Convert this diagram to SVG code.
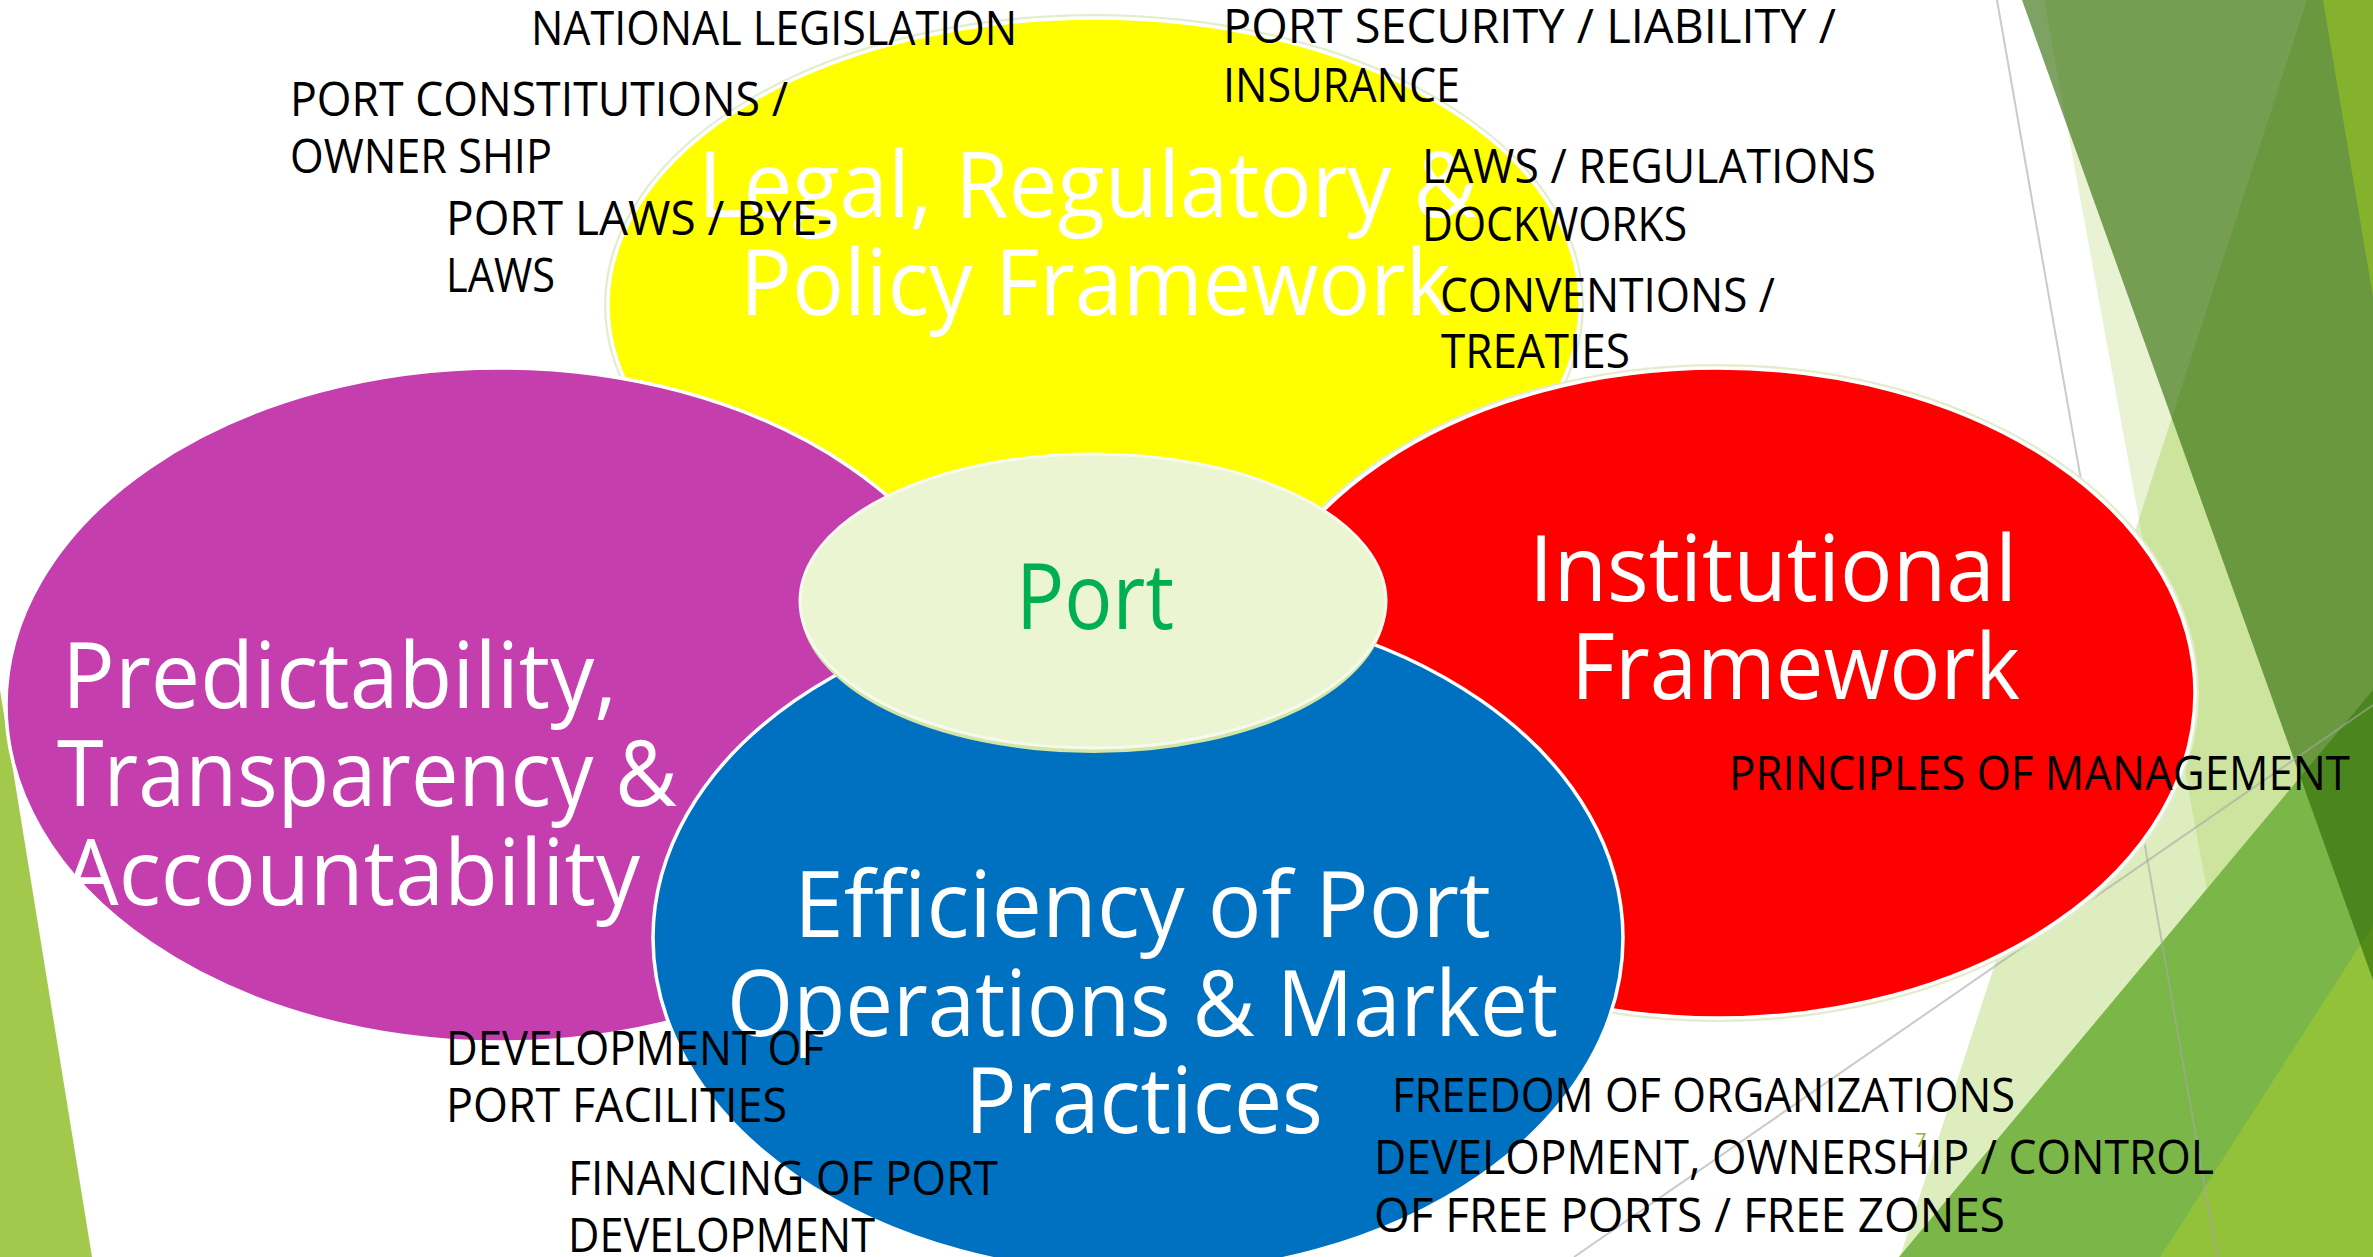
<svg xmlns="http://www.w3.org/2000/svg" width="2373" height="1257" viewBox="0 0 2373 1257">
<style>
.title{font-family:"Open Sans","Liberation Sans",sans-serif;font-size:91px;fill:#FFFFFF}
.lbl{font-family:"Open Sans","Liberation Sans",sans-serif;font-size:47px;fill:#000000}
.edge{stroke:#FFFFFF;stroke-width:3.5}
.glow{fill:#E2EECB}
.gline{stroke:#A6A6A6;stroke-opacity:0.6;stroke-width:2;fill:none}
</style>
<rect width="2373" height="1257" fill="#FFFFFF"/>
<g id="background">
  <polygon points="0,690 92,1257 0,1257" fill="#A2C94B"/>
  <polygon points="2044,0 2373,0 2373,1257 2274,1257" fill="#90C226" fill-opacity="0.2"/>
  <polygon points="2307,0 2373,0 2373,1257 1900,1257" fill="#90C226" fill-opacity="0.3"/>
  <polygon points="1899,1257 2373,690 2373,1257" fill="#7AB648"/>
  <polygon points="2160,1257 2373,925 2373,1257" fill="#92C13A"/>
  <polygon points="2022,0 2373,0 2373,980" fill="#2D6903" fill-opacity="0.62"/>
  <polygon points="2323,0 2373,0 2373,297" fill="#84B22D"/>
  <line class="gline" x1="1997" y1="0" x2="2217" y2="1257"/>
  <line class="gline" x1="1574" y1="1257" x2="2373" y2="705"/>
</g>
<g id="connectors"></g>
<g id="node-legal">
  <ellipse class="glow" cx="1094" cy="305" rx="490" ry="291"/>
  <ellipse class="edge" cx="1094" cy="305" rx="486" ry="287" fill="#FFFF00"/>
</g>
<g id="node-predictability">
  <ellipse class="edge" cx="500" cy="705" rx="494" ry="337" fill="#C43EAE"/>
  <text class="title" x="62" y="708" textLength="555" lengthAdjust="spacingAndGlyphs">Predictability,</text>
  <text class="title" x="57" y="806" textLength="620" lengthAdjust="spacingAndGlyphs">Transparency &amp;</text>
  <text class="title" x="63" y="905" textLength="577" lengthAdjust="spacingAndGlyphs">Accountability</text>
</g>
<g id="node-institutional">
  <ellipse class="glow" cx="1718" cy="693" rx="481" ry="329"/>
  <ellipse class="edge" cx="1718" cy="693" rx="477" ry="325" fill="#FF0000"/>
  <text class="title" x="1529" y="601" textLength="488" lengthAdjust="spacingAndGlyphs">Institutional</text>
  <text class="title" x="1571" y="699" textLength="449" lengthAdjust="spacingAndGlyphs">Framework</text>
</g>
<g id="node-efficiency">
  <ellipse class="edge" cx="1138" cy="938" rx="485" ry="336" fill="#0070C0"/>
  <text class="title" x="794" y="937" textLength="697" lengthAdjust="spacingAndGlyphs">Efficiency of Port</text>
  <text class="title" x="727" y="1036" textLength="831" lengthAdjust="spacingAndGlyphs">Operations &amp; Market</text>
  <text class="title" x="965" y="1133" textLength="358" lengthAdjust="spacingAndGlyphs">Practices</text>
</g>
<g id="node-legal-title">
  <text class="title" x="698" y="217" textLength="779" lengthAdjust="spacingAndGlyphs">Legal, Regulatory &amp;</text>
  <text class="title" x="740" y="315" textLength="711" lengthAdjust="spacingAndGlyphs">Policy Framework</text>
</g>
<g id="node-port">
  <ellipse cx="1093" cy="606" rx="293" ry="147" fill="#D2E6A6"/>
  <ellipse cx="1093" cy="601" rx="293" ry="147" fill="#EBF5D2" stroke="#F6FAEE" stroke-width="3"/>
  <text x="1016" y="629" textLength="158" lengthAdjust="spacingAndGlyphs" style="font-family:'Open Sans','Liberation Sans',sans-serif;font-size:91px;fill:#00B050">Port</text>
</g>
<g id="labels">
  <text class="lbl" x="531" y="45" textLength="486" lengthAdjust="spacingAndGlyphs">NATIONAL LEGISLATION</text>
  <text class="lbl" x="290" y="116" textLength="498" lengthAdjust="spacingAndGlyphs">PORT CONSTITUTIONS /</text>
  <text class="lbl" x="290" y="173" textLength="262" lengthAdjust="spacingAndGlyphs">OWNER SHIP</text>
  <text class="lbl" x="446" y="235" textLength="386" lengthAdjust="spacingAndGlyphs">PORT LAWS / BYE-</text>
  <text class="lbl" x="446" y="292" textLength="109" lengthAdjust="spacingAndGlyphs">LAWS</text>
  <text class="lbl" x="1223" y="43" textLength="613" lengthAdjust="spacingAndGlyphs">PORT SECURITY / LIABILITY /</text>
  <text class="lbl" x="1223" y="102" textLength="237" lengthAdjust="spacingAndGlyphs">INSURANCE</text>
  <text class="lbl" x="1422" y="183" textLength="454" lengthAdjust="spacingAndGlyphs">LAWS / REGULATIONS</text>
  <text class="lbl" x="1422" y="241" textLength="265" lengthAdjust="spacingAndGlyphs">DOCKWORKS</text>
  <text class="lbl" x="1440" y="312" textLength="335" lengthAdjust="spacingAndGlyphs">CONVENTIONS /</text>
  <text class="lbl" x="1441" y="368" textLength="189" lengthAdjust="spacingAndGlyphs">TREATIES</text>
  <text class="lbl" x="1729" y="790" textLength="621" lengthAdjust="spacingAndGlyphs">PRINCIPLES OF MANAGEMENT</text>
  <text class="lbl" x="446" y="1065" textLength="378" lengthAdjust="spacingAndGlyphs">DEVELOPMENT OF</text>
  <text class="lbl" x="446" y="1122" textLength="341" lengthAdjust="spacingAndGlyphs">PORT FACILITIES</text>
  <text class="lbl" x="568" y="1195" textLength="430" lengthAdjust="spacingAndGlyphs">FINANCING OF PORT</text>
  <text class="lbl" x="568" y="1252" textLength="307" lengthAdjust="spacingAndGlyphs">DEVELOPMENT</text>
  <text class="lbl" x="1392" y="1112" textLength="623" lengthAdjust="spacingAndGlyphs">FREEDOM OF ORGANIZATIONS</text>
  <text class="lbl" x="1374" y="1174" textLength="840" lengthAdjust="spacingAndGlyphs">DEVELOPMENT, OWNERSHIP / CONTROL</text>
  <text class="lbl" x="1374" y="1232" textLength="631" lengthAdjust="spacingAndGlyphs">OF FREE PORTS / FREE ZONES</text>
  <text x="1915" y="1147" style="font-family:'Open Sans','Liberation Sans',sans-serif;font-size:20px;fill:#8AB833">7</text>
</g>
</svg>
